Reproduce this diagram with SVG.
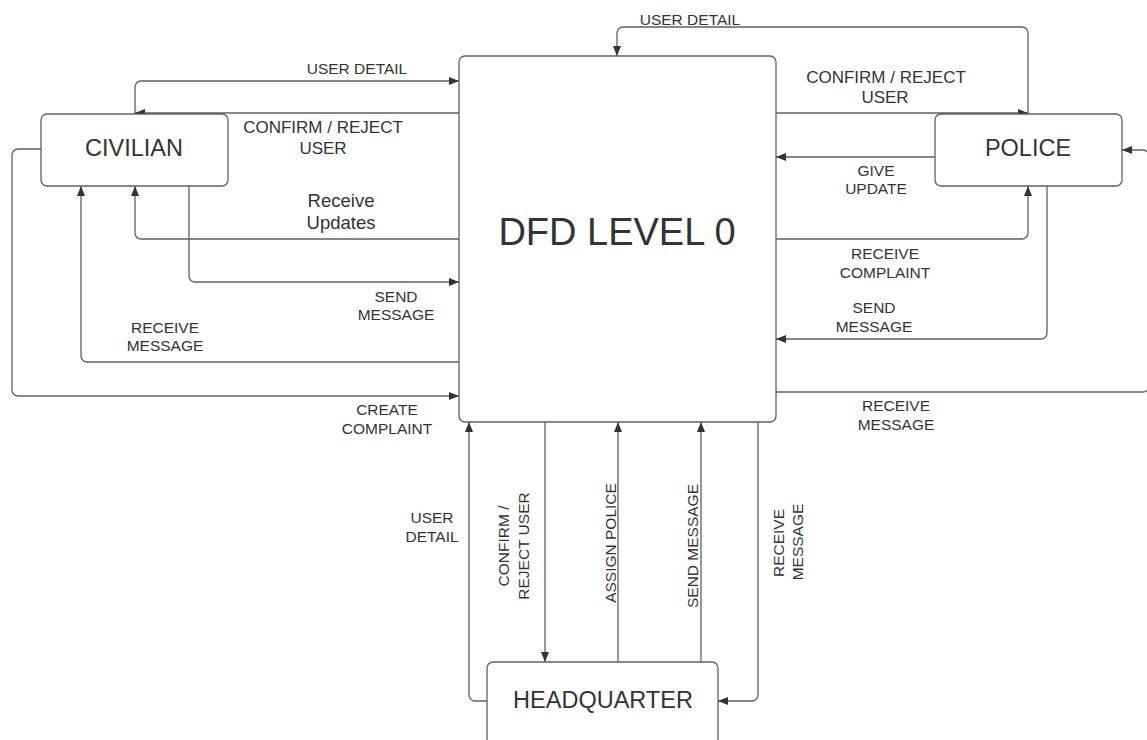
<svg xmlns="http://www.w3.org/2000/svg" width="1147" height="740" viewBox="0 0 1147 740">
<defs>
<style>
.box{fill:#fff;stroke:#606060;stroke-width:1.3}
.c{fill:none;stroke:#606060;stroke-width:1.3;marker-end:url(#ah)}
text{font-family:"Liberation Sans",Arial,sans-serif;fill:#333;text-anchor:middle}
.l{font-size:15.5px}
.lb{font-size:17px}
.n{font-size:23.5px}
</style>
<marker id="ah" viewBox="0 0 10 8" refX="10" refY="4" markerWidth="11" markerHeight="8" markerUnits="userSpaceOnUse" orient="auto">
<path d="M0,0 L10,4 L0,8 Z" fill="#333"/>
</marker>
</defs>
<rect width="1147" height="740" fill="#fff"/>
<g id="connectors">
<path class="c" d="M135,114 V87 A6,6 0 0 1 141,81 H459"/>
<path class="c" d="M459,113 H135"/>
<path class="c" d="M459,239 H141 A6,6 0 0 1 135,233 V186"/>
<path class="c" d="M189,186 V276 A6,6 0 0 0 195,282 H459"/>
<path class="c" d="M459,362 H87 A6,6 0 0 1 81,356 V186"/>
<path class="c" d="M41,149 H18 A6,6 0 0 0 12,155 V390 A6,6 0 0 0 18,396 H459"/>
<path class="c" d="M1028,114 V33 A6,6 0 0 0 1022,27 H623 A6,6 0 0 0 617,33 V56"/>
<path class="c" d="M776,113 H1028"/>
<path class="c" d="M935,157 H776"/>
<path class="c" d="M776,239 H1022 A6,6 0 0 0 1028,233 V186"/>
<path class="c" d="M1047,186 V333 A6,6 0 0 1 1041,339 H776"/>
<path class="c" d="M776,392 H1143 A6,6 0 0 0 1149,386 V156 A6,6 0 0 0 1143,150 H1122"/>
<path class="c" d="M487,701 H475 A6,6 0 0 1 469,695 V422"/>
<path class="c" d="M545,422 V662"/>
<path class="c" d="M618,662 V422"/>
<path class="c" d="M701,662 V422"/>
<path class="c" d="M758,422 V695 A6,6 0 0 1 752,701 H718"/>
<text class="l" x="357" y="74">USER DETAIL</text>
<text class="lb" x="323" y="133">CONFIRM / REJECT</text>
<text class="lb" x="323" y="154">USER</text>
<text x="341" y="207" style="font-size:18.5px">Receive</text>
<text x="341" y="229" style="font-size:18.5px">Updates</text>
<text class="l" x="396" y="302">SEND</text>
<text class="l" x="396" y="320">MESSAGE</text>
<text class="l" x="165" y="333">RECEIVE</text>
<text class="l" x="165" y="351">MESSAGE</text>
<text class="l" x="387" y="415">CREATE</text>
<text class="l" x="387" y="434">COMPLAINT</text>
<text class="l" x="690" y="25">USER DETAIL</text>
<text class="lb" x="886" y="83">CONFIRM / REJECT</text>
<text class="lb" x="885" y="103">USER</text>
<text class="l" x="876" y="176">GIVE</text>
<text class="l" x="876" y="194">UPDATE</text>
<text class="l" x="885" y="259">RECEIVE</text>
<text class="l" x="885" y="278">COMPLAINT</text>
<text class="l" x="874" y="313">SEND</text>
<text class="l" x="874" y="332">MESSAGE</text>
<text class="l" x="896" y="411">RECEIVE</text>
<text class="l" x="896" y="430">MESSAGE</text>
<text class="l" x="432" y="523">USER</text>
<text class="l" x="432" y="542">DETAIL</text>
<text class="l" transform="translate(509,546) rotate(-90)">CONFIRM /</text>
<text class="l" transform="translate(529,546) rotate(-90)">REJECT USER</text>
<text class="l" transform="translate(616,543) rotate(-90)">ASSIGN POLICE</text>
<text class="l" transform="translate(698,546) rotate(-90)">SEND MESSAGE</text>
<text class="l" transform="translate(784,543) rotate(-90)">RECEIVE</text>
<text class="l" transform="translate(803,542) rotate(-90)">MESSAGE</text>
</g>
<g id="dfd">
<rect class="box" x="459" y="56" width="317" height="366" rx="6"/>
<text x="617" y="245" style="font-size:38px">DFD LEVEL 0</text>
</g>
<g id="civilian">
<rect class="box" x="41" y="114" width="187" height="72" rx="6"/>
<text class="n" x="134" y="156">CIVILIAN</text>
</g>
<g id="police">
<rect class="box" x="935" y="114" width="187" height="72" rx="6"/>
<text class="n" x="1028" y="156">POLICE</text>
</g>
<g id="headquarter">
<rect class="box" x="487" y="662" width="231" height="92" rx="6"/>
<text class="n" x="603" y="708">HEADQUARTER</text>
</g>
</svg>
